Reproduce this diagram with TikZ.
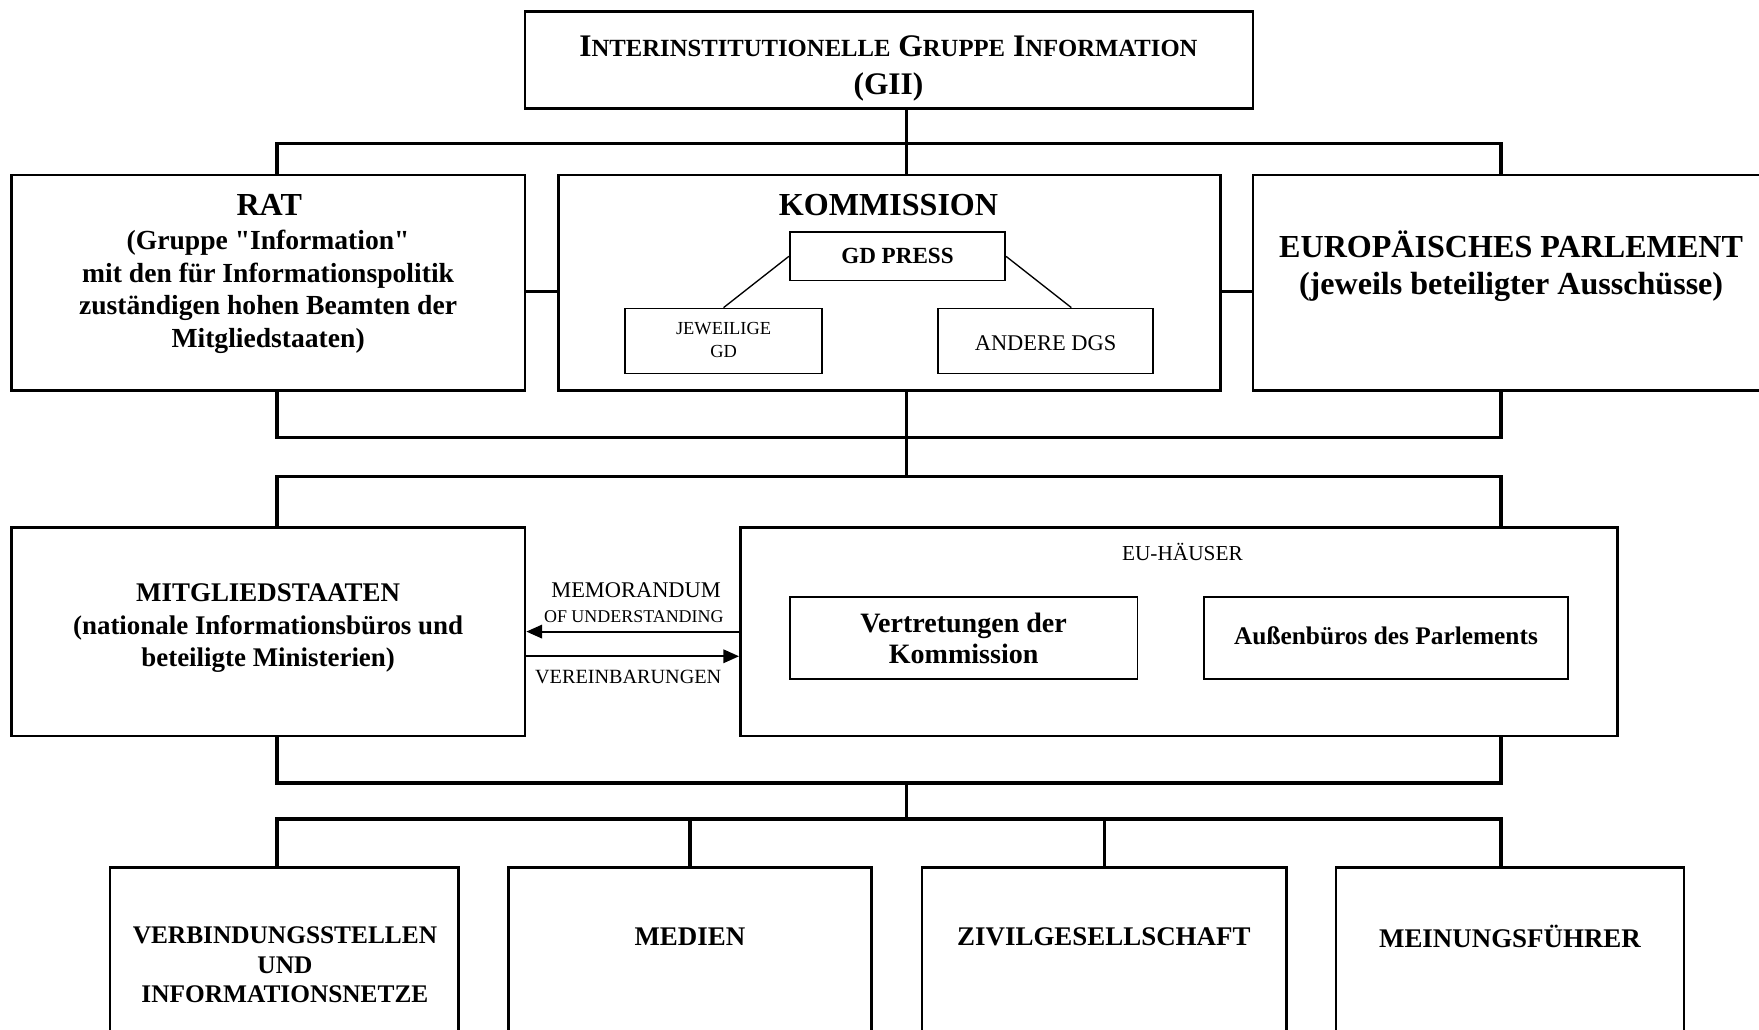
\documentclass[tikz,border=0pt]{standalone}
\usepackage{fontspec}
\setmainfont{Liberation Serif}
\usetikzlibrary{arrows.meta}
\newcommand{\setfs}[2]{\fontsize{#1}{#2}\selectfont}
\newcommand{\scword}[2]{{\setfs{14}{17}#1}{\setfs{11}{17}#2}}

\begin{document}
\begin{tikzpicture}[x=0.5pt,y=-0.5pt,
    box/.style={draw, line width=1.2pt, inner sep=0pt},
    subbox/.style={draw, line width=0.8pt, inner sep=0pt},
    bus/.style={line width=1.5pt},
    arr/.style={line width=0.9pt, -{Triangle[length=7pt,width=6pt]}},
    lbl/.style={align=center, inner sep=0pt}]
  \useasboundingbox (0,0) rectangle (1568,918);

  % boxes
  \node[box, minimum width=324.5pt, minimum height=43.5pt] (gii) at (792.5,53.5) {};
  \node[box, minimum width=229pt, minimum height=96pt] (rat) at (239,252) {};
  \node[box, minimum width=295pt, minimum height=96pt] (komm) at (793,252) {};
  \node[box, minimum width=229pt, minimum height=96pt] (ep) at (1346,252) {};
  \node[subbox, minimum width=96pt, minimum height=21.5pt] (gdpress) at (800,228.5) {};
  \node[subbox, minimum width=88pt, minimum height=29pt] (jew) at (645,304) {};
  \node[subbox, minimum width=96pt, minimum height=29pt] (andere) at (932,304) {};
  \node[box, minimum width=229pt, minimum height=93pt] (mitglied) at (239,563) {};
  \node[box, minimum width=391pt, minimum height=93pt] (euh) at (1051,563) {};
  \node[subbox, minimum width=155pt, minimum height=36.5pt] (vertr) at (859,568.5) {};
  \node[subbox, minimum width=162.5pt, minimum height=36.5pt] (aussen) at (1235.5,568.5) {};
  \node[box, minimum width=155.5pt, minimum height=93.5pt] (verb) at (253.5,866.5) {};
  \node[box, minimum width=162pt, minimum height=93.5pt] (medien) at (615,866.5) {};
  \node[box, minimum width=162.5pt, minimum height=93.5pt] (zivil) at (984.5,866.5) {};
  \node[box, minimum width=155pt, minimum height=93.5pt] (meinung) at (1346,866.5) {};

  % texts
  \node[lbl, font=\bfseries\setfs{14}{17}] (giitext) at (792,61)
    {\scword{I}{NTERINSTITUTIONELLE} \scword{G}{RUPPE} \scword{I}{NFORMATION}\\(GII)};
  \node[lbl, font=\bfseries\setfs{14.3}{17}] (rattitle) at (240,183) {RAT};
  \node[lbl, font=\bfseries\setfs{12.3}{14.5}] (rattext) at (239,260)
    {(Gruppe \textquotedbl Information\textquotedbl\\mit den für Informationspolitik\\zuständigen hohen Beamten der\\Mitgliedstaaten)};
  \node[lbl, font=\bfseries\setfs{14.3}{17}] (kommtitle) at (792,183) {KOMMISSION};
  \node[lbl, font=\bfseries\setfs{10.3}{12}] (gdtext) at (800,228.5) {GD PRESS};
  \node[lbl, font=\setfs{8.2}{10}] (jewtext) at (645,303) {JEWEILIGE\\GD};
  \node[lbl, font=\setfs{10}{12}] (anderetext) at (932,306) {ANDERE DGS};
  \node[lbl, font=\bfseries\setfs{14.3}{16.5}] (eptext) at (1347,237.5)
    {EUROPÄISCHES PARLEMENT\\(jeweils beteiligter Ausschüsse)};
  \node[lbl, font=\bfseries\setfs{12}{14.5}] (mitgliedtext) at (239,560)
    {MITGLIEDSTAATEN\\(nationale Informationsbüros und\\beteiligte Ministerien)};
  \node[lbl, font=\setfs{9.5}{11}] (euhtext) at (1054,492) {EU-HÄUSER};
  \node[lbl, font=\bfseries\setfs{12.5}{14}] (vertrtext) at (859,569) {Vertretungen der\\Kommission};
  \node[lbl, font=\bfseries\setfs{11.3}{13}] (aussentext) at (1235.5,567) {Außenbüros des Parlements};
  \node[lbl, font=\setfs{10}{12}] (memo) at (567,526) {MEMORANDUM};
  \node[lbl, font=\setfs{8}{10}] (mou) at (565,550) {OF UNDERSTANDING};
  \node[lbl, font=\setfs{9}{11}] (verein) at (560,603) {VEREINBARUNGEN};
  \node[lbl, font=\bfseries\setfs{11.3}{13}] (verbtext) at (254,860)
    {VERBINDUNGSSTELLEN\\UND\\INFORMATIONSNETZE};
  \node[lbl, font=\bfseries\setfs{12}{14}] (medientext) at (615,835) {MEDIEN};
  \node[lbl, font=\bfseries\setfs{12}{14}] (ziviltext) at (984,835) {ZIVILGESELLSCHAFT};
  \node[lbl, font=\bfseries\setfs{12}{14}] (meinungtext) at (1346,835) {MEINUNGSFÜHRER};

  % bus lines
  \coordinate (xl) at (247,0);
  \coordinate (xm) at (808,0);
  \coordinate (xr) at (1338,0);
  \coordinate (xa) at (955,0);
  \coordinate (ya) at (0,128);
  \coordinate (ys) at (0,260);
  \coordinate (yb) at (0,390);
  \coordinate (yc) at (0,425);
  \coordinate (yv) at (0,585);
  \coordinate (yd) at (0,698);
  \coordinate (ye) at (0,730);

  \draw[bus] (gii.south -| xm) -- (komm.north -| xm);
  \draw[bus] (rat.north -| xl) -- (xl |- ya) -- (xr |- ya) -- (ep.north -| xr);
  \draw[bus] (rat.east |- ys) -- (komm.west |- ys);
  \draw[bus] (komm.east |- ys) -- (ep.west |- ys);
  \draw[bus] (rat.south -| xl) -- (xl |- yb) -- (xr |- yb) -- (ep.south -| xr);
  \draw[bus] (komm.south -| xm) -- (xm |- yc);
  \draw[bus] (mitglied.north -| xl) -- (xl |- yc) -- (xr |- yc) -- (euh.north -| xr);
  \draw[bus] (mitglied.south -| xl) -- (xl |- yd) -- (xr |- yd) -- (euh.south -| xr);
  \draw[bus] (xm |- yd) -- (xm |- ye);
  \draw[bus] (verb.north -| xl) -- (xl |- ye) -- (xr |- ye) -- (meinung.north -| xr);
  \draw[bus] (medien.north) -- (medien.north |- ye);
  \draw[bus] (zivil.north) -- (zivil.north |- ye);

  % kommission inside
  \draw[line width=0.6pt] (gdpress.west) -- (jew.north);
  \draw[line width=0.6pt] (gdpress.east) -- (andere.north -| xa);

  % agreements
  \draw[arr] (euh.west) -- (mitglied.east);
  \draw[arr] (mitglied.east |- yv) -- (euh.west |- yv);
\end{tikzpicture}
\end{document}
